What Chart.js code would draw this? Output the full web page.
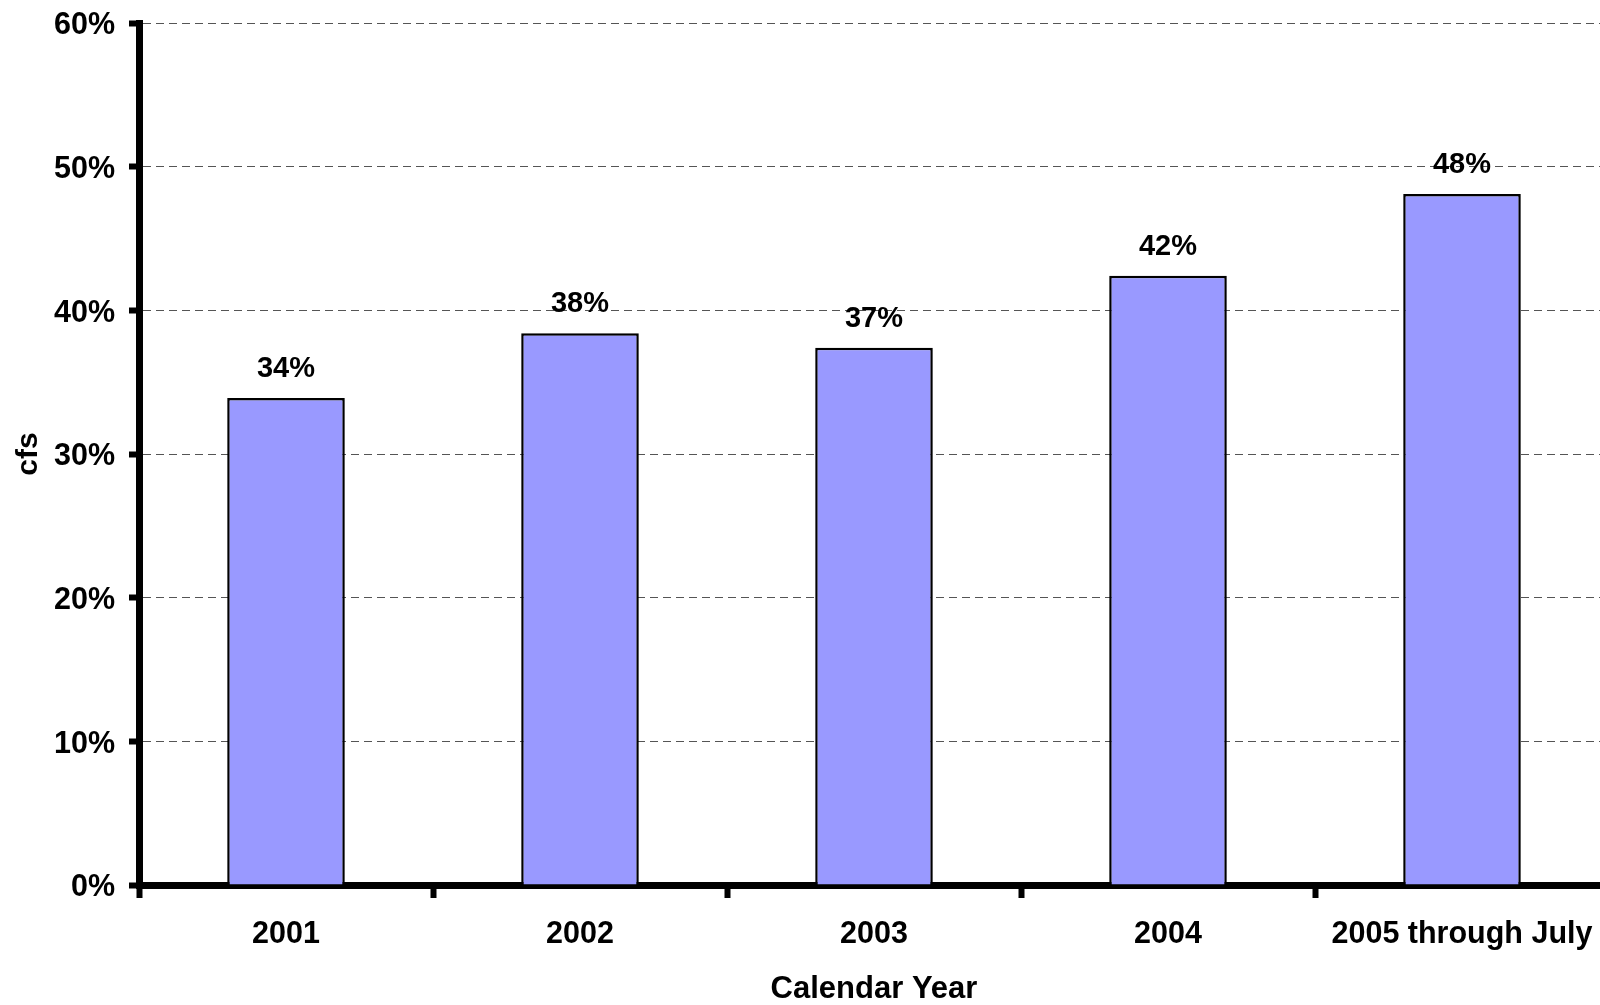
<!DOCTYPE html>
<html>
<head>
<meta charset="utf-8">
<title>Calendar Year</title>
<script src="https://cdn.jsdelivr.net/npm/chart.js@4/dist/chart.umd.min.js"></script>
<style>
    html, body { margin: 0; padding: 0; background: #fff; overflow: hidden; }
    canvas { display: block; }
</style>
</head>
<body>
<canvas id="grafico" width="1612" height="1005"></canvas>
<script>
const anios = ["2001", "2002", "2003", "2004", "2005 through July"];
const porcentajes = [33.9, 38.4, 37.4, 42.4, 48.1];
const yTicks = [0, 10, 20, 30, 40, 50, 60];

const fuente = "'Liberation Sans', Arial, sans-serif";

// etiquetas de valor encima de cada barra
const etiquetasBarras = {
    id: 'etiquetasBarras',
    afterDatasetsDraw(chart) {
        const ctx = chart.ctx;
        const meta = chart.getDatasetMeta(0);
        ctx.save();
        ctx.font = "bold 29px " + fuente;
        ctx.fillStyle = '#000';
        ctx.textAlign = 'center';
        ctx.textBaseline = 'alphabetic';
        meta.data.forEach((bar, i) => {
            const valor = chart.data.datasets[0].data[i];
            ctx.fillText(Math.round(valor) + '%', bar.x, bar.y - 21);
        });
        ctx.restore();
    }
};

const ctx = document.getElementById('grafico').getContext('2d');
const myChart = new Chart(ctx, {
    type: 'bar',
    data: {
        labels: anios,
        datasets: [{
            data: porcentajes,
            backgroundColor: '#9999FF',
            borderColor: '#000',
            borderWidth: 2.5,
            categoryPercentage: 1,
            barPercentage: 0.4
        }]
    },
    options: {
        responsive: false,
        animation: false,
        layout: {
            padding: { top: 23, right: 3, left: 0, bottom: 0 }
        },
        plugins: {
            legend: { display: false },
            tooltip: { enabled: false }
        },
        scales: {
            x: {
                afterFit: (scale) => { scale.height = 120; },
                grid: {
                    drawOnChartArea: false,
                    drawTicks: true,
                    tickLength: 13,
                    tickWidth: 6,
                    tickColor: '#000',
                    offset: true
                },
                border: { display: true, color: '#000', width: 7 },
                ticks: {
                    color: '#000',
                    padding: 18,
                    maxRotation: 0,
                    autoSkip: false,
                    font: { family: fuente, size: 30.5, weight: 'bold' }
                },
                title: {
                    display: true,
                    text: 'Calendar Year',
                    color: '#000',
                    padding: { top: 0, bottom: 0 },
                    font: { family: fuente, size: 31, weight: 'bold', lineHeight: 1 }
                }
            },
            y: {
                min: 0,
                max: 60,
                afterFit: (scale) => {
                    scale.width = 139;
                    // el margen superior lo fija layout.padding
                    scale.paddingTop = 0;
                    scale.paddingBottom = 0;
                },
                afterBuildTicks: (scale) => {
                    scale.ticks = yTicks.map(v => ({ value: v }));
                },
                grid: {
                    color: '#555',
                    lineWidth: 1,
                    drawTicks: true,
                    tickLength: 10,
                    tickWidth: 6,
                    tickColor: '#000'
                },
                border: { display: true, color: '#000', width: 7, dash: [8, 5] },
                ticks: {
                    color: '#000',
                    padding: 14,
                    labelOffset: 3,
                    callback: (v) => v + '%',
                    font: { family: fuente, size: 30.5, weight: 'bold' }
                },
                title: {
                    display: true,
                    text: 'cfs',
                    color: '#000',
                    padding: { top: 11, bottom: 0 },
                    font: { family: fuente, size: 30, weight: 'bold' }
                }
            }
        }
    },
    plugins: [etiquetasBarras]
});
</script>
</body>
</html>
